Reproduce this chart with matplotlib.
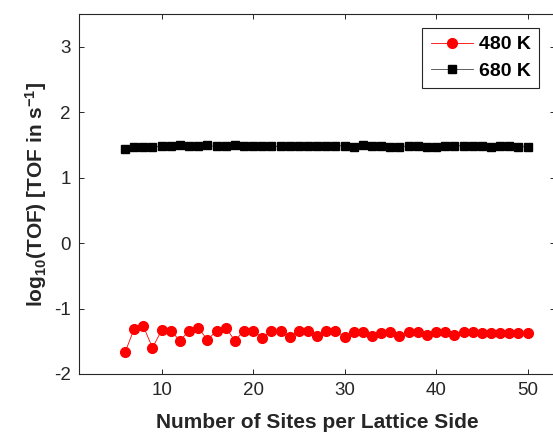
import numpy as np
import matplotlib
matplotlib.use("Agg")
import matplotlib.pyplot as plt

plt.rcParams["font.family"] = ["Liberation Sans", "DejaVu Sans"]
plt.rcParams["mathtext.default"] = "regular"
plt.rcParams["axes.unicode_minus"] = False

# Lattice side lengths and log10 turnover frequencies
sites = list(range(6, 51))

tof_480 = [
    -1.67, -1.31, -1.27, -1.60, -1.33, -1.34, -1.49, -1.34, -1.29, -1.48,
    -1.34, -1.29, -1.49, -1.34, -1.34, -1.45, -1.34, -1.34, -1.44, -1.34,
    -1.34, -1.42, -1.34, -1.34, -1.43, -1.36, -1.36, -1.42, -1.37, -1.36,
    -1.42, -1.36, -1.36, -1.41, -1.36, -1.36, -1.41, -1.36, -1.36, -1.38,
    -1.38, -1.37, -1.37, -1.37, -1.37,
]

tof_680 = [
    1.443, 1.464, 1.470, 1.475, 1.477, 1.480, 1.492, 1.477, 1.482, 1.492,
    1.477, 1.487, 1.492, 1.487, 1.480, 1.477, 1.480, 1.477, 1.477, 1.477,
    1.482, 1.487, 1.487, 1.487, 1.487, 1.467, 1.492, 1.487, 1.482, 1.467,
    1.472, 1.487, 1.482, 1.472, 1.472, 1.487, 1.487, 1.487, 1.482, 1.482,
    1.467, 1.487, 1.477, 1.472, 1.472,
]

axis_col = "#262626"

fig = plt.figure(figsize=(5.53, 4.36), dpi=100)
ax = fig.add_axes([79.3 / 553, 62 / 436, (555 - 79.3) / 553, 360 / 436])

ax.plot(sites, tof_480, color="red", lw=0.6, marker="o", ms=7,
        mfc="red", mec="red", label="480 K")
ax.plot(sites, tof_680, color="#444444", lw=0.6, marker="s", ms=5.4,
        mfc="black", mec="black", label="680 K")

ax.set_xlim(1, 53)
ax.set_ylim(-2, 3.5)
ax.set_xticks([10, 20, 30, 40, 50])
ax.set_yticks([-2, -1, 0, 1, 2, 3])

ax.tick_params(direction="in", top=True, right=True, length=3.6, width=0.7,
               colors=axis_col, labelsize=13.5, pad=6)
for sp in ax.spines.values():
    sp.set_color(axis_col)
    sp.set_linewidth(0.8)

ax.set_xlabel("Number of Sites per Lattice Side", fontsize=15, fontweight="bold",
              color=axis_col, labelpad=10)
ax.set_ylabel("log$_{10}$(TOF) [TOF in s$^{-1}$]", fontsize=15, fontweight="bold",
              color=axis_col, labelpad=4)

leg = ax.legend(loc="upper right", bbox_to_anchor=(0.967, 0.962),
                prop={"weight": "bold", "size": 14}, fancybox=False,
                framealpha=1, edgecolor=axis_col, handlelength=2.2,
                borderpad=0.42, labelspacing=0.45, handletextpad=0.3,
                borderaxespad=0)
leg.get_frame().set_linewidth(0.8)

fig.savefig("out.png", dpi=100)
